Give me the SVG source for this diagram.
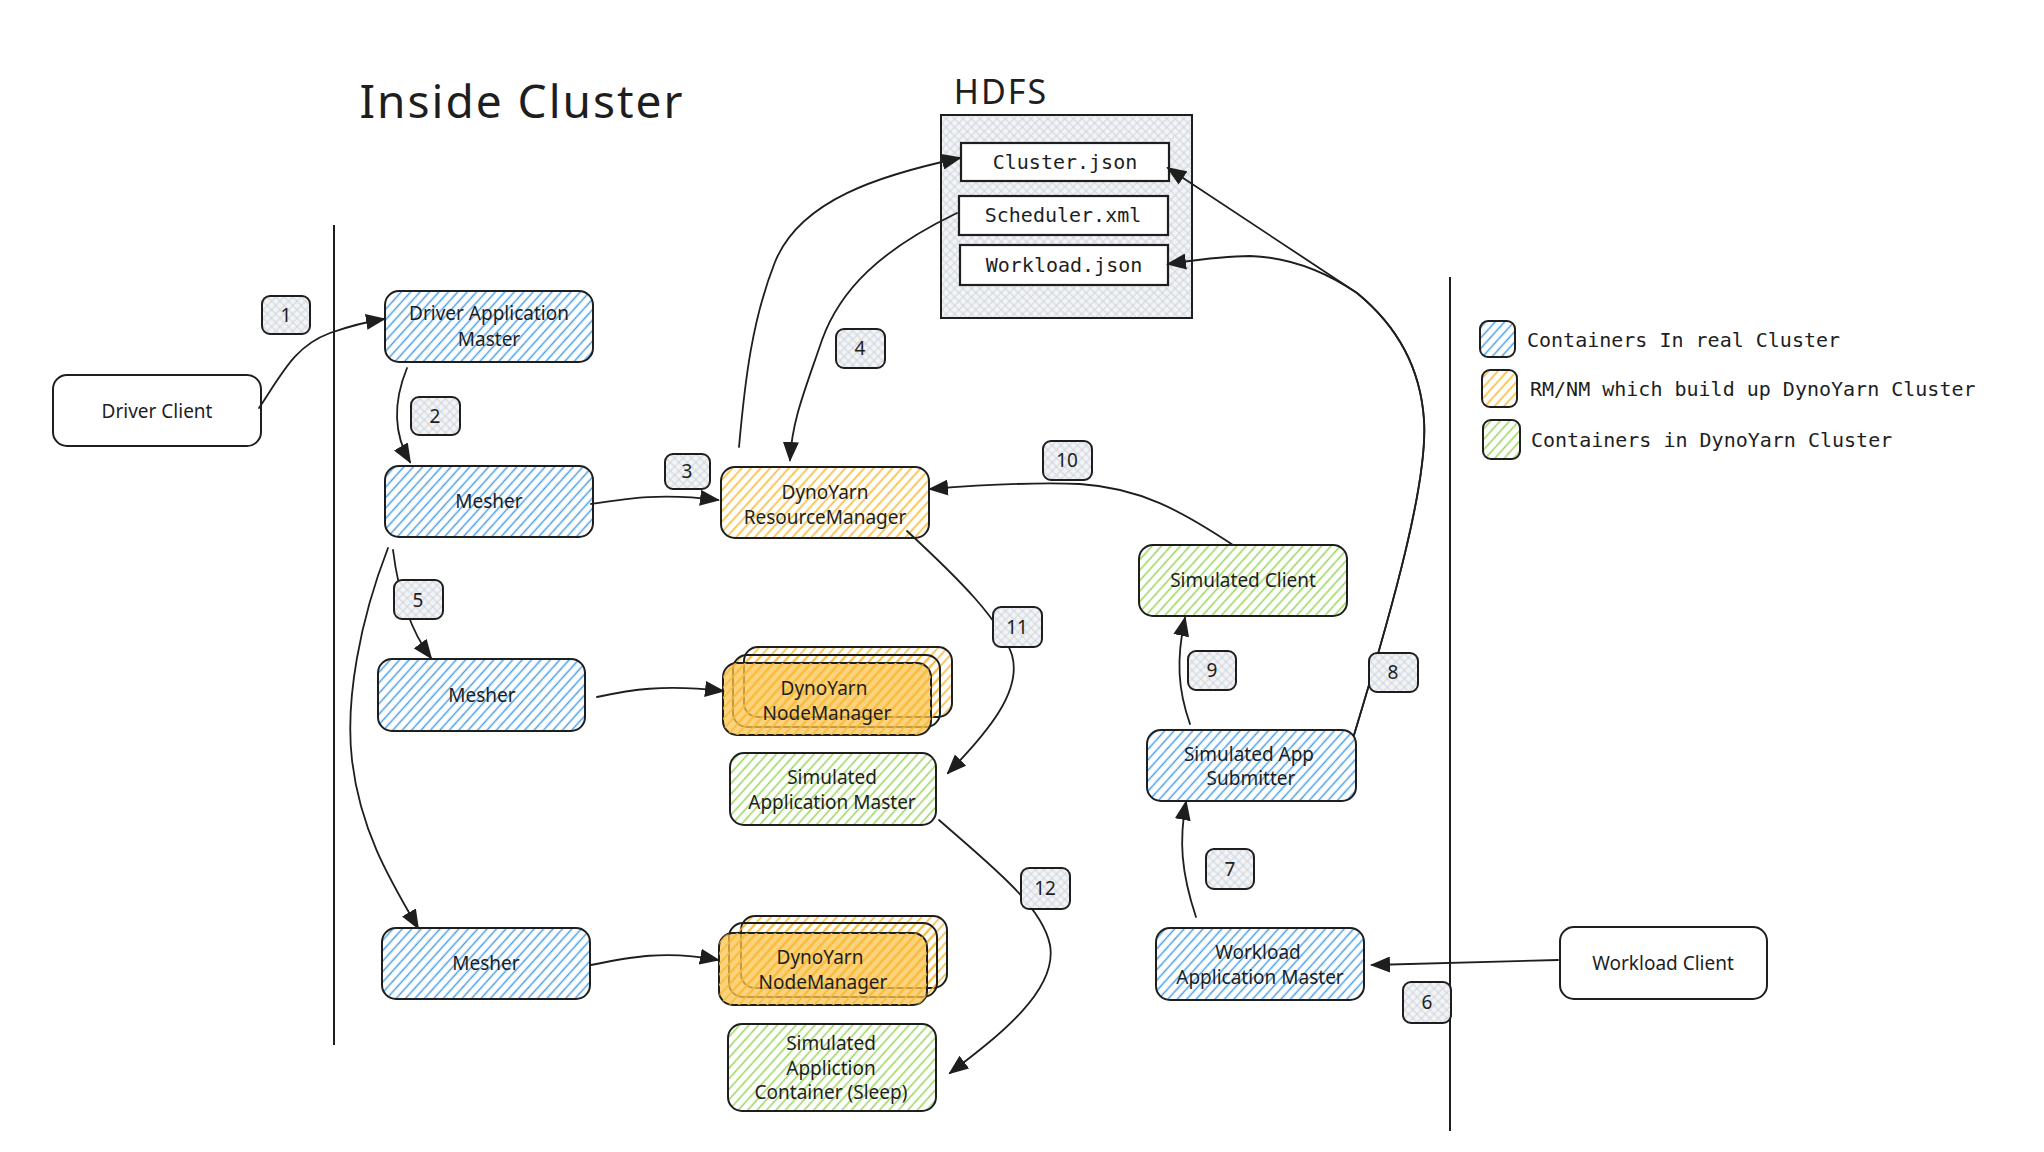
<svg xmlns="http://www.w3.org/2000/svg" width="2044" height="1152" viewBox="0 0 2044 1152">
<style>
.bg{fill:#ffffff}
.node{stroke:#1e1e1e;stroke-width:2}
.blue{fill:url(#hb)}
.orange{fill:url(#ho)}
.green{fill:url(#hg)}
.plain{fill:#ffffff}
.num{fill:url(#xh);stroke:#1e1e1e;stroke-width:2}
.file{fill:#ffffff;stroke:#1e1e1e;stroke-width:2.2}
.hand{font-family:"Noto Sans","Liberation Sans",sans-serif;font-size:19px;fill:#1e1e1e;text-anchor:middle;dominant-baseline:central}
.mono{font-family:"DejaVu Sans Mono","Liberation Mono",monospace;font-size:20px;fill:#1e1e1e;dominant-baseline:central}
.conn path{fill:none;stroke:#1e1e1e;stroke-width:1.8;stroke-linecap:round}
.arr{marker-end:url(#ah)}
.sep{stroke:#1e1e1e;stroke-width:2}
</style>
<defs>
<pattern id="hb" width="7" height="7" patternUnits="userSpaceOnUse" patternTransform="rotate(42)"><line x1="3.5" y1="0" x2="3.5" y2="7" stroke="#4a9ee8" stroke-width="1.5"/></pattern>
<pattern id="ho" width="7" height="7" patternUnits="userSpaceOnUse" patternTransform="rotate(42)"><line x1="3.5" y1="0" x2="3.5" y2="7" stroke="#f9b934" stroke-width="1.6"/></pattern>
<pattern id="hg" width="7" height="7" patternUnits="userSpaceOnUse" patternTransform="rotate(42)"><line x1="3.5" y1="0" x2="3.5" y2="7" stroke="#97d45a" stroke-width="1.5"/></pattern>
<pattern id="xh" width="6" height="6" patternUnits="userSpaceOnUse" patternTransform="rotate(45)"><rect width="6" height="6" fill="#f3f4f6"/><line x1="3" y1="0" x2="3" y2="6" stroke="#cdd3da" stroke-width="1"/><line x1="0" y1="3" x2="6" y2="3" stroke="#cdd3da" stroke-width="1"/></pattern>
<marker id="ah" viewBox="0 0 20 16" refX="18" refY="8" markerWidth="20" markerHeight="16" markerUnits="userSpaceOnUse" orient="auto"><path d="M0,0 L20,8 L0,16 Z" fill="#1e1e1e"/></marker>
</defs>
<rect class="bg" x="0" y="0" width="2044" height="1152"/>

<g id="titles">
<text x="522" y="100" font-family="Noto Sans, Liberation Sans, sans-serif" font-size="46" letter-spacing="2" fill="#1e1e1e" text-anchor="middle" dominant-baseline="central">Inside Cluster</text>
<text x="1001" y="91" font-family="Noto Sans, Liberation Sans, sans-serif" font-size="34" letter-spacing="2" fill="#1e1e1e" text-anchor="middle" dominant-baseline="central">HDFS</text>
</g>

<g id="separators">
<line class="sep" x1="334" y1="225" x2="334" y2="1045"/>
<line class="sep" x1="1450" y1="277" x2="1450" y2="1131"/>
</g>

<g id="hdfs">
<rect x="941" y="115" width="251" height="203" fill="url(#xh)" stroke="#1e1e1e" stroke-width="2"/>
<g id="cluster-json"><rect class="file" x="961" y="143" width="208" height="38"/><text class="mono" x="1065" y="162" text-anchor="middle">Cluster.json</text></g>
<g id="scheduler-xml"><rect class="file" x="959" y="196" width="209" height="39"/><text class="mono" x="1063" y="215" text-anchor="middle">Scheduler.xml</text></g>
<g id="workload-json"><rect class="file" x="960" y="245" width="208" height="40"/><text class="mono" x="1064" y="265" text-anchor="middle">Workload.json</text></g>
</g>

<g id="driver-client"><rect class="node plain" x="53" y="375" width="208" height="71" rx="14"/><text class="hand" x="157" y="411">Driver Client</text></g>
<g id="driver-am"><rect class="node blue" x="385" y="291" width="208" height="71" rx="14"/><text class="hand" x="489" y="313">Driver Application</text><text class="hand" x="489" y="339">Master</text></g>
<g id="mesher-1"><rect class="node blue" x="385" y="466" width="208" height="71" rx="14"/><text class="hand" x="489" y="501">Mesher</text></g>
<g id="rm"><rect class="node orange" x="721" y="467" width="208" height="71" rx="14"/><text class="hand" x="825" y="492">DynoYarn</text><text class="hand" x="825" y="517">ResourceManager</text></g>
<g id="mesher-2"><rect class="node blue" x="378" y="659" width="207" height="72" rx="14"/><text class="hand" x="482" y="695">Mesher</text></g>
<g id="nm-1">
<rect class="node orange" x="744" y="647" width="208" height="70" rx="14"/>
<rect class="node orange" x="733" y="655" width="207" height="72" rx="14"/>
<rect class="node" x="723" y="663" width="208" height="72" rx="14" fill="#fbc452" fill-opacity="0.75"/>
<rect x="723" y="663" width="208" height="72" rx="14" fill="url(#ho)"/>
<text class="hand" x="824" y="688">DynoYarn</text><text class="hand" x="827" y="713">NodeManager</text></g>
<g id="sim-am"><rect class="node green" x="730" y="753" width="206" height="72" rx="14"/><text class="hand" x="832" y="777">Simulated</text><text class="hand" x="832" y="802">Application Master</text></g>
<g id="mesher-3"><rect class="node blue" x="382" y="928" width="208" height="71" rx="14"/><text class="hand" x="486" y="963">Mesher</text></g>
<g id="nm-2">
<rect class="node orange" x="741" y="916" width="206" height="72" rx="14"/>
<rect class="node orange" x="729" y="923" width="208" height="74" rx="14"/>
<rect class="node" x="719" y="933" width="208" height="72" rx="14" fill="#fbc452" fill-opacity="0.75"/>
<rect x="719" y="933" width="208" height="72" rx="14" fill="url(#ho)"/>
<text class="hand" x="820" y="957">DynoYarn</text><text class="hand" x="823" y="982">NodeManager</text></g>
<g id="sim-container"><rect class="node green" x="728" y="1024" width="208" height="87" rx="14"/><text class="hand" x="831" y="1043">Simulated</text><text class="hand" x="831" y="1068">Appliction</text><text class="hand" x="831" y="1092">Container (Sleep)</text></g>
<g id="sim-client"><rect class="node green" x="1139" y="545" width="208" height="71" rx="14"/><text class="hand" x="1243" y="580">Simulated Client</text></g>
<g id="sim-submitter"><rect class="node blue" x="1147" y="730" width="209" height="71" rx="14"/><text class="hand" x="1249" y="754">Simulated App</text><text class="hand" x="1251" y="778">Submitter</text></g>
<g id="workload-am"><rect class="node blue" x="1156" y="928" width="208" height="72" rx="14"/><text class="hand" x="1258" y="952">Workload</text><text class="hand" x="1260" y="977">Application Master</text></g>
<g id="workload-client"><rect class="node plain" x="1560" y="927" width="207" height="72" rx="14"/><text class="hand" x="1663" y="963">Workload Client</text></g>

<g id="legend">
<rect class="node blue" x="1480" y="321" width="35" height="36" rx="8"/>
<text class="mono" x="1527" y="340">Containers In real Cluster</text>
<rect class="node orange" x="1482" y="370" width="35" height="37" rx="8"/>
<text class="mono" x="1530" y="389">RM/NM which build up DynoYarn Cluster</text>
<rect class="node green" x="1483" y="420" width="37" height="39" rx="8"/>
<text class="mono" x="1531" y="440">Containers in DynoYarn Cluster</text>
</g>

<g id="connectors" class="conn">
<path class="arr" d="M259,408 C283,372 295,346 330,333 C350,326 365,322 384,319"/>
<path class="arr" d="M407,368 C396,395 390,428 410,462"/>
<path class="arr" d="M591,504 C630,498 662,493 718,500"/>
<path class="arr" d="M957,213 C880,250 840,290 822,340 C805,390 792,420 790,460"/>
<path class="arr" d="M739,447 C745,380 752,320 775,262 C800,200 880,175 960,158"/>
<path class="arr" d="M393,550 C398,590 410,630 431,658"/>
<path class="arr" d="M388,548 C360,620 345,700 352,760 C360,830 390,880 418,928"/>
<path class="arr" d="M597,697 C630,690 662,684 723,691"/>
<path class="arr" d="M591,965 C630,957 665,950 718,960"/>
<path class="arr" d="M1558,960 L1372,965"/>
<path class="arr" d="M1196,917 C1181,872 1179,840 1186,802"/>
<path class="arr" d="M1354,735 C1395,600 1428,480 1424,420 C1420,360 1390,320 1357,293 L1168,168"/>
<path class="arr" d="M1354,735 C1395,600 1428,480 1424,420 C1420,360 1390,320 1357,293 C1320,268 1285,257 1250,256 C1220,256 1190,261 1168,264"/>
<path class="arr" d="M1190,724 C1178,690 1176,660 1185,618"/>
<path class="arr" d="M1233,545 C1180,510 1140,488 1080,484 C1030,482 980,485 930,489"/>
<path class="arr" d="M907,531 C960,580 1000,620 1012,655 C1022,690 990,730 948,773"/>
<path class="arr" d="M939,820 C990,865 1042,905 1050,945 C1058,990 1000,1035 950,1073"/>
</g>

<g id="step-labels">
<g id="s1"><rect class="num" x="262" y="296" width="48" height="38" rx="8"/><text class="hand" x="286" y="315">1</text></g>
<g id="s2"><rect class="num" x="411" y="397" width="49" height="38" rx="8"/><text class="hand" x="435" y="416">2</text></g>
<g id="s3"><rect class="num" x="665" y="454" width="45" height="35" rx="8"/><text class="hand" x="687" y="471">3</text></g>
<g id="s4"><rect class="num" x="836" y="329" width="49" height="39" rx="8"/><text class="hand" x="860" y="348">4</text></g>
<g id="s5"><rect class="num" x="394" y="580" width="49" height="39" rx="8"/><text class="hand" x="418" y="600">5</text></g>
<g id="s6"><rect class="num" x="1403" y="982" width="48" height="41" rx="8"/><text class="hand" x="1427" y="1002">6</text></g>
<g id="s7"><rect class="num" x="1206" y="849" width="48" height="40" rx="8"/><text class="hand" x="1230" y="869">7</text></g>
<g id="s8"><rect class="num" x="1369" y="653" width="49" height="39" rx="8"/><text class="hand" x="1393" y="672">8</text></g>
<g id="s9"><rect class="num" x="1188" y="651" width="48" height="39" rx="8"/><text class="hand" x="1212" y="670">9</text></g>
<g id="s10"><rect class="num" x="1043" y="441" width="49" height="39" rx="8"/><text class="hand" x="1067" y="460">10</text></g>
<g id="s11"><rect class="num" x="993" y="607" width="49" height="40" rx="8"/><text class="hand" x="1017" y="627">11</text></g>
<g id="s12"><rect class="num" x="1021" y="868" width="49" height="41" rx="8"/><text class="hand" x="1045" y="888">12</text></g>
</g>
</svg>
